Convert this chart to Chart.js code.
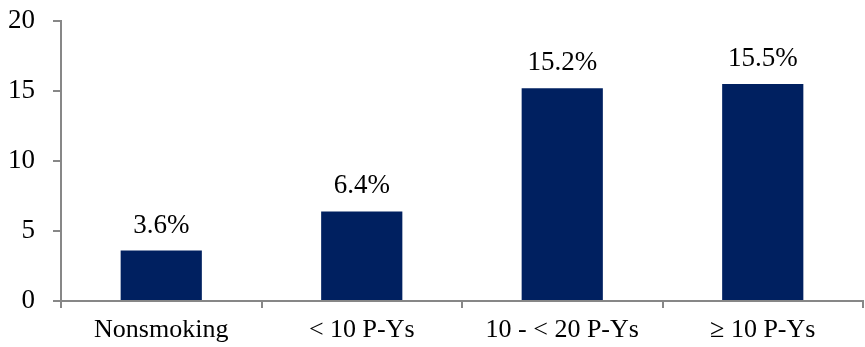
<!DOCTYPE html>
<html>
<head>
<meta charset="utf-8">
<script src="https://cdn.jsdelivr.net/npm/chart.js@4.4.1/dist/chart.umd.min.js"></script>
<style>
  html, body { margin: 0; padding: 0; background: #fff; }
  #wrap { width: 865px; height: 347px; }
</style>
</head>
<body>
<div id="wrap"><canvas id="chart"></canvas></div>
<script>
// data
const categories = ['Nonsmoking', '< 10 P-Ys', '10 - < 20 P-Ys', '\u2265 10 P-Ys'];
const rates = [3.6, 6.4, 15.2, 15.5];
const valueLabels = ['3.6%', '6.4%', '15.2%', '15.5%'];
const yTicks = [0, 5, 10, 15, 20];

const axisGrey = '#878787';
const fontFamily = '"Liberation Serif", "Times New Roman", serif';

// labels above each bar
const barLabels = {
    id: 'barLabels',
    afterDatasetsDraw(chart) {
        const ctx = chart.ctx;
        const meta = chart.getDatasetMeta(0);
        ctx.save();
        ctx.font = '27px ' + fontFamily;
        ctx.fillStyle = '#000';
        ctx.textAlign = 'center';
        ctx.textBaseline = 'alphabetic';
        meta.data.forEach(function(bar, i) {
            ctx.fillText(valueLabels[i], bar.x, bar.y - 18);
        });
        ctx.restore();
    }
};

new Chart(document.getElementById('chart'), {
    type: 'bar',
    data: {
        labels: categories,
        datasets: [{
            data: rates,
            backgroundColor: '#002060',
            barPercentage: 0.405,
            categoryPercentage: 1
        }]
    },
    options: {
        responsive: true,
        maintainAspectRatio: false,
        animation: false,
        layout: { padding: { left: 7, right: 2, top: 0, bottom: 0 } },
        plugins: {
            legend: { display: false },
            tooltip: { enabled: false }
        },
        scales: {
            x: {
                afterFit: function(scale) { scale.height = 46; },
                grid: {
                    offset: true,
                    drawOnChartArea: false,
                    color: axisGrey,
                    lineWidth: 2,
                    tickLength: 7
                },
                border: { color: axisGrey, width: 2 },
                ticks: {
                    color: '#000',
                    padding: 7,
                    font: { family: fontFamily, size: 26 }
                }
            },
            y: {
                min: 0,
                max: 20,
                afterFit: function(scale) {
                    scale.width = 54;
                    scale.paddingTop = 21;
                    scale.paddingBottom = 0;
                },
                afterBuildTicks: function(scale) {
                    scale.ticks = yTicks.map(v => ({ value: v }));
                },
                grid: {
                    drawOnChartArea: false,
                    color: axisGrey,
                    lineWidth: 2,
                    tickLength: 8
                },
                border: { color: axisGrey, width: 2 },
                ticks: {
                    color: '#000',
                    padding: 18,
                    font: { family: fontFamily, size: 27 }
                }
            }
        }
    },
    plugins: [barLabels]
});
</script>
</body>
</html>
